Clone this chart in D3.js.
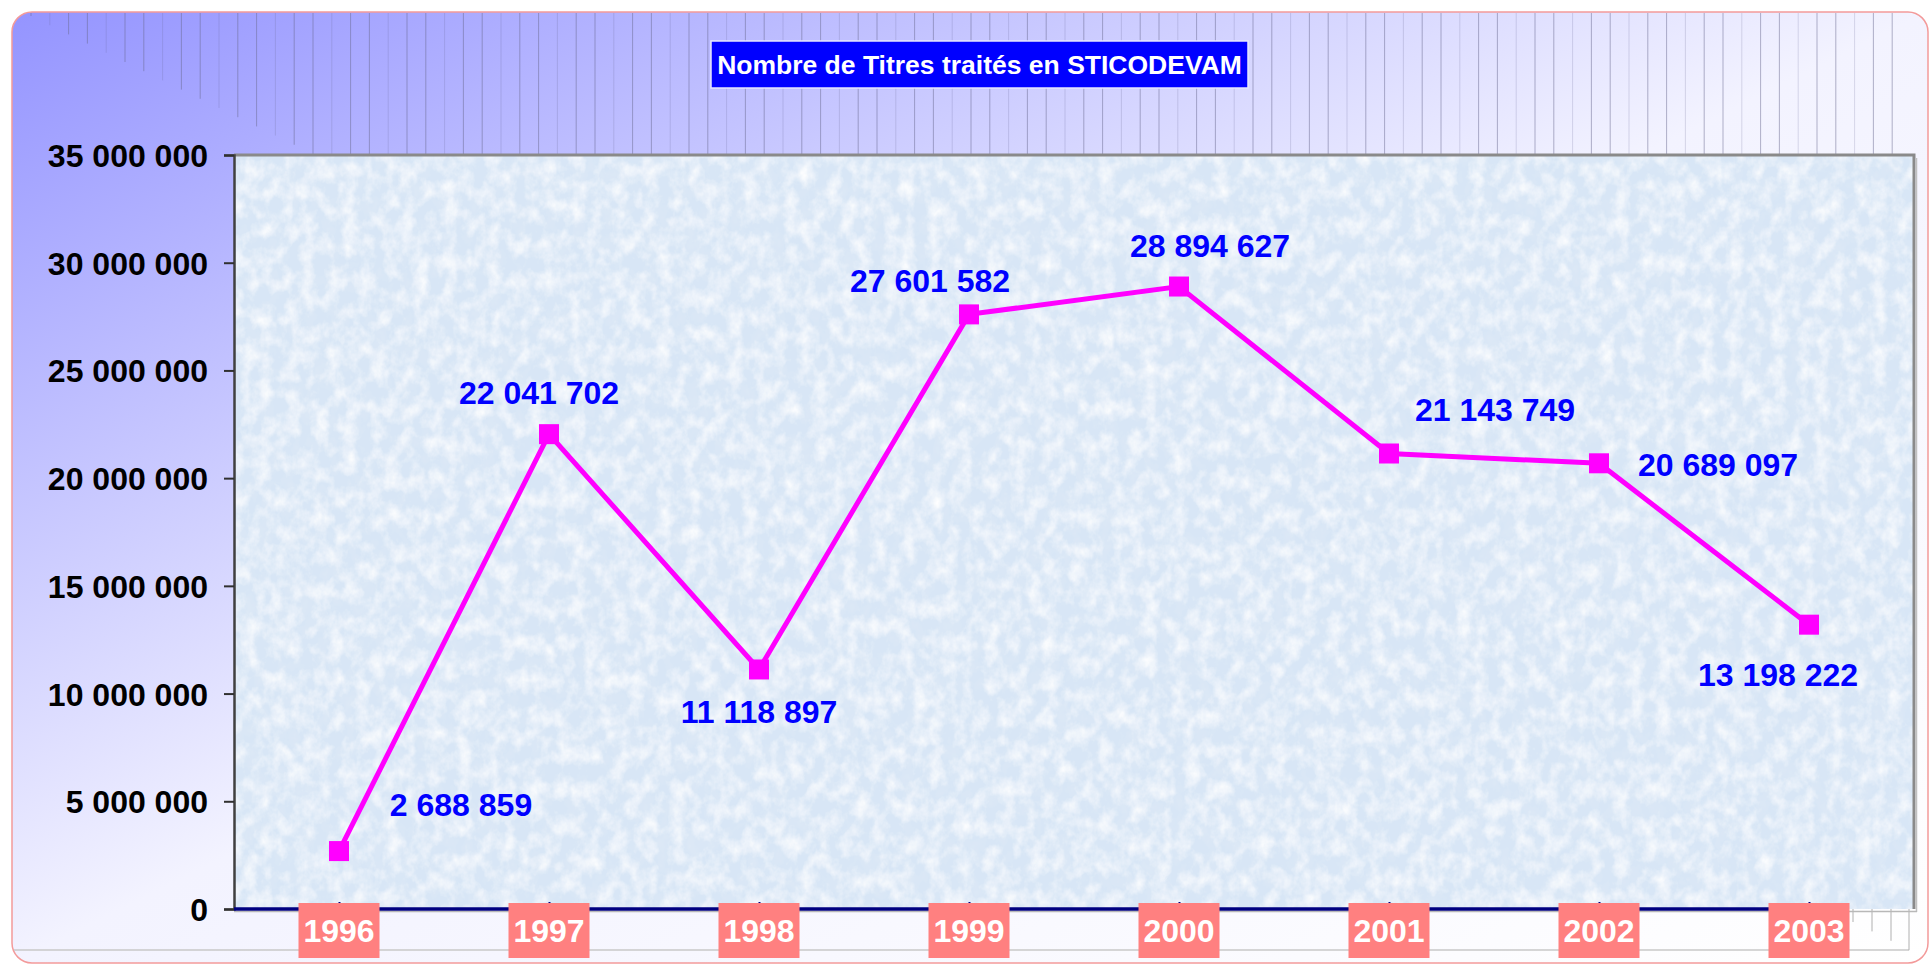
<!DOCTYPE html>
<html>
<head>
<meta charset="utf-8">
<script src="https://cdn.jsdelivr.net/npm/d3@7"></script>
<style>
  html, body { margin: 0; padding: 0; background: #ffffff; }
  svg { display: block; }
  text { font-family: "Liberation Sans", Arial, sans-serif; font-weight: bold; }
</style>
</head>
<body>
<div id="chart"></div>
<script>
// data
const years = ['1996', '1997', '1998', '1999', '2000', '2001', '2002', '2003'];
const titres = [2688859, 22041702, 11118897, 27601582, 28894627, 21143749, 20689097, 13198222];
const yTicks = [0, 5000000, 10000000, 15000000, 20000000, 25000000, 30000000, 35000000];
const chartTitle = 'Nombre de Titres traités en STICODEVAM';

// where each value label sits relative to its point (dx to label centre, dy to baseline)
const labelOffsets = [[122, -35], [-10, -30], [0, 54], [-39, -22], [31, -30], [106, -33], [119, 13], [-31, 61]];

const W = 1931, H = 965;
const plot = { left: 234, right: 1914, top: 155, bottom: 909 };

const fr = d3.formatLocale({ decimal: ',', thousands: ' ', grouping: [3], currency: ['', ' €'] });
const fmt = fr.format(',');

const svg = d3.select('#chart').append('svg')
  .attr('width', W)
  .attr('height', H);

const defs = svg.append('defs');

// frame gradient: blue-violet in the top-left corner fading to white
const bg = defs.append('linearGradient')
  .attr('id', 'frameGrad')
  .attr('x1', 0).attr('y1', 0).attr('x2', 1).attr('y2', 1);
bg.append('stop').attr('offset', '0%').attr('stop-color', '#9494ff');
bg.append('stop').attr('offset', '50%').attr('stop-color', '#f3f3ff');
bg.append('stop').attr('offset', '100%').attr('stop-color', '#ffffff');

// paper-like texture for the plot area (fine grain, low contrast)
const tex = defs.append('filter')
  .attr('id', 'paper')
  .attr('x', 0).attr('y', 0).attr('width', 1).attr('height', 1);
tex.append('feTurbulence')
  .attr('type', 'fractalNoise')
  .attr('baseFrequency', '0.07 0.055')
  .attr('numOctaves', 4)
  .attr('seed', 11)
  .attr('result', 'noise');
tex.append('feColorMatrix')
  .attr('in', 'noise')
  .attr('type', 'matrix')
  .attr('values', '0 0 0 0 1  0 0 0 0 1  0 0 0 0 1  1.6 0 0 0 -0.62')
  .attr('result', 'light');
tex.append('feColorMatrix')
  .attr('in', 'noise')
  .attr('type', 'matrix')
  .attr('values', '0 0 0 0 0.74  0 0 0 0 0.82  0 0 0 0 0.92  0 1.4 0 0 -0.62')
  .attr('result', 'dark');
tex.append('feFlood')
  .attr('flood-color', '#d8e6f6')
  .attr('result', 'base');
tex.append('feComposite')
  .attr('in', 'dark').attr('in2', 'base')
  .attr('operator', 'over')
  .attr('result', 'mix');
tex.append('feComposite')
  .attr('in', 'light').attr('in2', 'mix')
  .attr('operator', 'over');

// outer rounded frame
svg.append('rect')
  .attr('x', 12).attr('y', 12)
  .attr('width', 1916).attr('height', 951)
  .attr('rx', 20).attr('ry', 20)
  .attr('fill', 'url(#frameGrad)')
  .attr('stroke', '#f39a9a')
  .attr('stroke-width', 1.5);

// decorative vertical rules in the top band (staircase towards the corner)
const deco = svg.append('g');
const stripes = d3.range(0, 100).map(i => 31 + i * 18.8).filter(x => x < plot.right);
deco.selectAll('line.top')
  .data(stripes)
  .join('line')
  .attr('x1', d => d).attr('x2', d => d)
  .attr('y1', 13)
  .attr('y2', (d, i) => Math.min(plot.top, 16 + i * 9.2))
  .attr('stroke', '#6a6a90')
  .attr('stroke-opacity', (d, i) => (i % 3 === 1 ? 0.22 : 0.5))
  .attr('stroke-width', 1);

// decorative rules under the plot (bottom-right staircase + base line)
deco.append('line')
  .attr('x1', 14).attr('x2', 1909)
  .attr('y1', 950).attr('y2', 950)
  .attr('stroke', '#c8c8c8').attr('stroke-width', 1.5);
const lowStripes = [1853, 1872, 1891, 1909];
deco.selectAll('line.low')
  .data(lowStripes)
  .join('line')
  .attr('x1', d => d).attr('x2', d => d)
  .attr('y1', plot.bottom)
  .attr('y2', (d, i) => 922 + i * 9.4)
  .attr('stroke', '#b0b0b0').attr('stroke-width', 1);

// title box
const titleG = svg.append('g');
titleG.append('rect')
  .attr('x', 711).attr('y', 41)
  .attr('width', 537).attr('height', 47)
  .attr('fill', '#0000ff')
  .attr('stroke', '#e6e6ff')
  .attr('stroke-width', 1.5);
titleG.append('text')
  .attr('x', 979.5).attr('y', 73.5)
  .attr('text-anchor', 'middle')
  .attr('font-size', 26.5)
  .attr('fill', '#ffffff')
  .text(chartTitle);

// scales
const x = d3.scalePoint()
  .domain(years)
  .range([plot.left, plot.right])
  .padding(0.5);

const y = d3.scaleLinear()
  .domain([0, 35000000])
  .range([plot.bottom, plot.top]);

// plot background
svg.append('rect')
  .attr('x', plot.left).attr('y', plot.top)
  .attr('width', plot.right - plot.left)
  .attr('height', plot.bottom - plot.top)
  .attr('filter', 'url(#paper)');

// plot border (top + right, grey with a small shadow)
svg.append('path')
  .attr('d', `M${plot.left},${plot.top}H${plot.right}V${plot.bottom}`)
  .attr('fill', 'none')
  .attr('stroke', '#8a8a8a')
  .attr('stroke-width', 3);
svg.append('line')
  .attr('x1', plot.right + 2.5).attr('x2', plot.right + 2.5)
  .attr('y1', plot.top + 3).attr('y2', plot.bottom + 3)
  .attr('stroke', '#c0c0c0').attr('stroke-width', 1.5);
svg.append('line')
  .attr('x1', plot.left).attr('x2', plot.right + 3)
  .attr('y1', plot.bottom + 2.5).attr('y2', plot.bottom + 2.5)
  .attr('stroke', '#b8b8b8').attr('stroke-width', 1.5);

// y axis
const yAxis = svg.append('g')
  .attr('transform', `translate(${plot.left},0)`)
  .call(d3.axisLeft(y).tickValues(yTicks).tickFormat(fmt).tickSize(10).tickPadding(16));
yAxis.select('.domain').attr('stroke', '#404040').attr('stroke-width', 2.5);
yAxis.selectAll('.tick line').attr('stroke', '#303030').attr('stroke-width', 2);
yAxis.selectAll('.tick text')
  .attr('font-size', 32)
  .attr('font-family', '"Liberation Sans", Arial, sans-serif')
  .attr('font-weight', 'bold')
  .attr('fill', '#000000')
  .attr('dy', '0.36em');

// x axis (navy baseline with small inner ticks)
const xAxis = svg.append('g')
  .attr('transform', `translate(0,${plot.bottom})`)
  .call(d3.axisBottom(x).tickSize(-7).tickFormat(''));
xAxis.select('.domain')
  .attr('d', `M${plot.left},0H${x(years[years.length - 1]) + 40}`)
  .attr('stroke', '#000080')
  .attr('stroke-width', 3.5);
xAxis.selectAll('.tick line').attr('stroke', '#000080').attr('stroke-width', 2);

// category label boxes
const catG = svg.append('g').selectAll('g')
  .data(years)
  .join('g')
  .attr('transform', d => `translate(${x(d)},0)`);
catG.append('rect')
  .attr('x', -40.5).attr('y', 903)
  .attr('width', 81).attr('height', 55)
  .attr('fill', '#ff8080');
catG.append('text')
  .attr('y', 942)
  .attr('text-anchor', 'middle')
  .attr('font-size', 32)
  .attr('fill', '#ffffff')
  .text(d => d);

// series line
const series = years.map((yr, i) => ({ year: yr, value: titres[i], off: labelOffsets[i] }));

svg.append('path')
  .datum(series)
  .attr('fill', 'none')
  .attr('stroke', '#ff00ff')
  .attr('stroke-width', 5)
  .attr('stroke-linejoin', 'miter')
  .attr('d', d3.line()
    .x(d => x(d.year))
    .y(d => y(d.value)));

svg.append('g').selectAll('rect')
  .data(series)
  .join('rect')
  .attr('x', d => x(d.year) - 10)
  .attr('y', d => y(d.value) - 10)
  .attr('width', 20).attr('height', 20)
  .attr('fill', '#ff00ff');

// value labels
svg.append('g').selectAll('text')
  .data(series)
  .join('text')
  .attr('x', d => x(d.year) + d.off[0])
  .attr('y', d => y(d.value) + d.off[1])
  .attr('text-anchor', 'middle')
  .attr('font-size', 32)
  .attr('fill', '#0000ff')
  .text(d => fmt(d.value));
</script>
</body>
</html>
